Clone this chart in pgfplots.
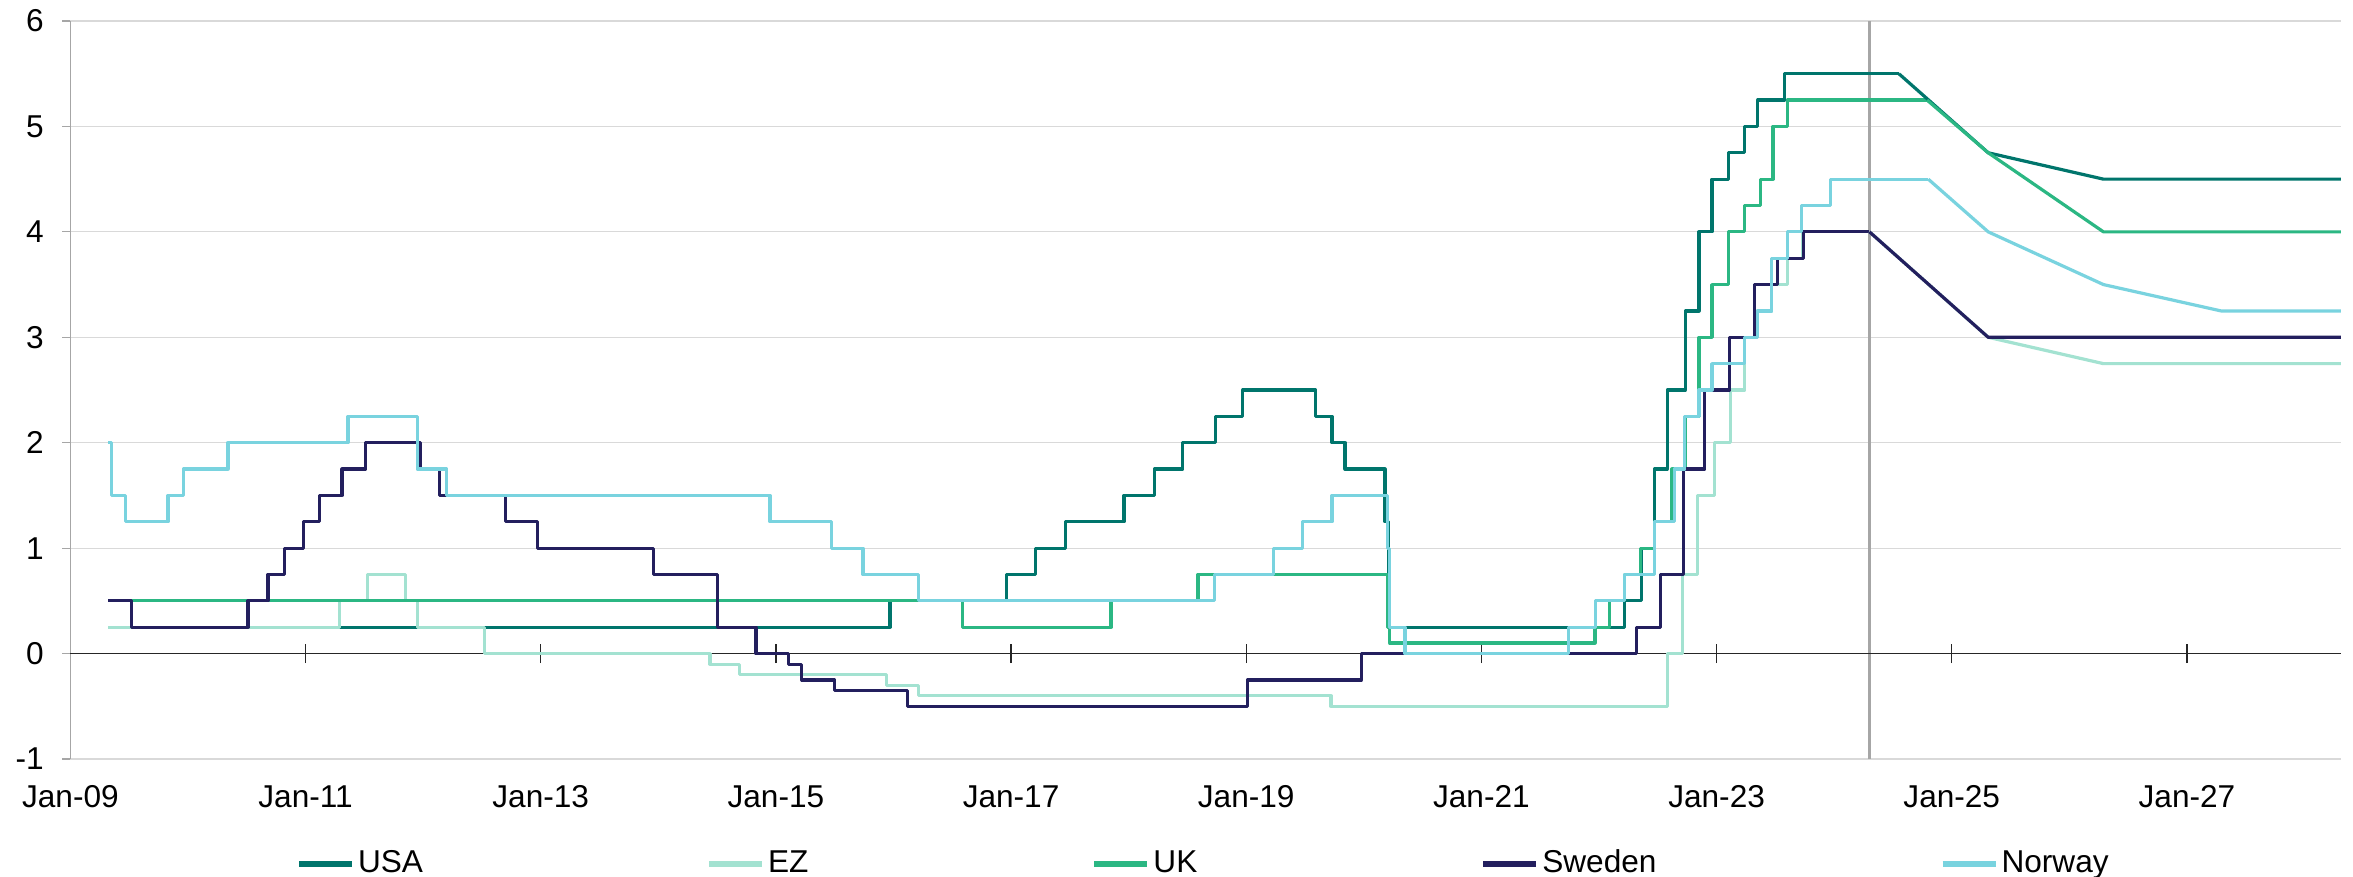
\documentclass[border=0pt]{standalone}
\usepackage{fontspec}
\setmainfont{Liberation Sans}
\usepackage{pgfplots}
\pgfplotsset{compat=1.18}
\definecolor{cUSA}{HTML}{00756C}
\definecolor{cEZ}{HTML}{A3E2D1}
\definecolor{cUK}{HTML}{2BB783}
\definecolor{cSWE}{HTML}{231F5E}
\definecolor{cNOR}{HTML}{79D3DF}
\definecolor{gridc}{HTML}{D9D9D9}
\definecolor{vline}{HTML}{A6A6A6}
\tikzset{ser/.style={line width=1.6pt, line join=round}}
\begin{document}
\fontsize{15.5}{18}\selectfont
\begin{tikzpicture}
\path[use as bounding box] (-35.2pt,-59pt) rectangle (1141.3pt,379.5pt);
\begin{axis}[
  at={(0,0)}, anchor=south west, scale only axis,
  width=1135.3pt, height=369pt,
  xmin=2009, xmax=2028.31, ymin=-1, ymax=6,
  ytick={-1,0,...,6},
  xtick={2009,2011,2013,2015,2017,2019,2021,2023,2025,2027},
  xticklabels={Jan-09,Jan-11,Jan-13,Jan-15,Jan-17,Jan-19,Jan-21,Jan-23,Jan-25,Jan-27},
  /pgf/number format/assume math mode=true,
  ymajorgrids, grid style={gridc, line width=0.6pt},
  axis lines*=left,
  x axis line style={draw=none},
  y axis line style={draw=vline, line width=0.6pt},
  xtick style={draw=none},
  ytick style={draw=vline, line width=0.6pt},
  tick align=outside, major tick length=4pt,
  xticklabel style={yshift=-4pt, font=\fontsize{15.8}{18}\selectfont},
  yticklabel style={xshift=-4pt, font=\fontsize{15.8}{18}\selectfont},
  legend columns=5,
  legend style={at={(0.0994,-0.142)}, anchor=west, draw=none, fill=none,
    inner sep=0pt, outer sep=0pt,
    nodes={inner sep=1.5pt},
    font=\fontsize{15.8}{18}\selectfont,
    /tikz/every odd column/.append style={column sep=0pt},
    /tikz/every even column/.append style={column sep=140pt}},
  legend image code/.code={\draw[line width=3pt] (0pt,0pt) -- (26.5pt,0pt);},
  clip=false
]
\draw[vline, line width=1.2pt] (axis cs:2024.30,-1) -- (axis cs:2024.30,6);
\draw[black!85, line width=0.6pt] (axis cs:2009,0) -- (axis cs:2028.31,0);
\pgfplotsinvokeforeach{2011,2013,2015,2017,2019,2021,2023,2025,2027}{
  \draw[black!85, line width=0.6pt] ([yshift=-4.75pt]axis cs:#1,0) -- ([yshift=4.75pt]axis cs:#1,0);
}
% USA
\addplot[cUSA, ser, const plot] coordinates {
(2009.32,0.25) (2015.97,0.5) (2016.96,0.75) (2017.21,1.0) (2017.46,1.25) (2017.96,1.5)
(2018.22,1.75) (2018.46,2.0) (2018.74,2.25) (2018.97,2.5) (2019.59,2.25) (2019.73,2.0)
(2019.84,1.75) (2020.18,1.25) (2020.21,0.25) (2022.22,0.5) (2022.36,1.0) (2022.47,1.75)
(2022.58,2.5) (2022.735,3.25) (2022.85,4.0) (2022.96,4.5) (2023.10,4.75) (2023.24,5.0)
(2023.35,5.25) (2023.58,5.5) (2024.55,5.5)};
\addlegendentry{USA}
% EZ
\addplot[cEZ, ser, const plot] coordinates {
(2009.32,0.25) (2011.29,0.5) (2011.53,0.75) (2011.85,0.5) (2011.95,0.25) (2012.52,0)
(2014.44,-0.1) (2014.69,-0.2) (2015.94,-0.3) (2016.21,-0.4) (2019.72,-0.5) (2022.58,0)
(2022.71,0.75) (2022.84,1.5) (2022.98,2.0) (2023.12,2.5) (2023.24,3.0) (2023.35,3.25)
(2023.47,3.5) (2023.60,3.75) (2023.73,4.0) (2024.30,4.0)};
\addlegendentry{EZ}
% UK
\addplot[cUK, ser, const plot] coordinates {
(2009.32,0.5) (2016.59,0.25) (2017.85,0.5) (2018.59,0.75) (2020.20,0.25) (2020.22,0.1)
(2021.965,0.25) (2022.09,0.5) (2022.22,0.75) (2022.35,1.0) (2022.47,1.25) (2022.62,1.75)
(2022.735,2.25) (2022.85,3.0) (2022.96,3.5) (2023.10,4.0) (2023.24,4.25) (2023.37,4.5)
(2023.48,5.0) (2023.60,5.25) (2024.79,5.25)};
\addlegendentry{UK}
% Sweden
\addplot[cSWE, ser, const plot] coordinates {
(2009.32,0.5) (2009.52,0.25) (2010.51,0.5) (2010.68,0.75) (2010.82,1.0) (2010.98,1.25)
(2011.12,1.5) (2011.31,1.75) (2011.51,2.0) (2011.98,1.75) (2012.14,1.5) (2012.70,1.25)
(2012.97,1.0) (2013.96,0.75) (2014.50,0.25) (2014.83,0) (2015.11,-0.1) (2015.22,-0.25)
(2015.50,-0.35) (2016.12,-0.5) (2019.01,-0.25) (2019.98,0) (2022.32,0.25) (2022.52,0.75)
(2022.72,1.75) (2022.90,2.5) (2023.11,3.0) (2023.32,3.5) (2023.52,3.75) (2023.74,4.0)
(2024.30,4.0)};
\addlegendentry{Sweden}
% Norway
\addplot[cNOR, ser, const plot] coordinates {
(2009.32,2.0) (2009.35,1.5) (2009.47,1.25) (2009.83,1.5) (2009.96,1.75) (2010.34,2.0)
(2011.36,2.25) (2011.95,1.75) (2012.20,1.5) (2014.95,1.25) (2015.47,1.0) (2015.74,0.75)
(2016.21,0.5) (2018.73,0.75) (2019.23,1.0) (2019.48,1.25) (2019.73,1.5) (2020.20,1.0)
(2020.22,0.25) (2020.35,0) (2021.74,0.25) (2021.97,0.5) (2022.22,0.75) (2022.47,1.25)
(2022.64,1.75) (2022.73,2.25) (2022.85,2.5) (2022.96,2.75) (2023.24,3.0) (2023.35,3.25)
(2023.47,3.75) (2023.60,4.0) (2023.72,4.25) (2023.97,4.5) (2024.80,4.5)};
\addlegendentry{Norway}
% forecasts
\addplot[cUSA, ser, forget plot] coordinates {(2024.55,5.5) (2025.31,4.75) (2026.29,4.5) (2028.31,4.5)};
\addplot[cEZ, ser, forget plot] coordinates {(2024.30,4.0) (2025.31,3.0) (2026.29,2.75) (2028.31,2.75)};
\addplot[cUK, ser, forget plot] coordinates {(2024.79,5.25) (2025.31,4.75) (2026.29,4.0) (2028.31,4.0)};
\addplot[cSWE, ser, forget plot] coordinates {(2024.30,4.0) (2025.31,3.0) (2028.31,3.0)};
\addplot[cNOR, ser, forget plot] coordinates {(2024.80,4.5) (2025.31,4.0) (2026.29,3.5) (2027.29,3.25) (2028.31,3.25)};
\end{axis}
\end{tikzpicture}
\end{document}
